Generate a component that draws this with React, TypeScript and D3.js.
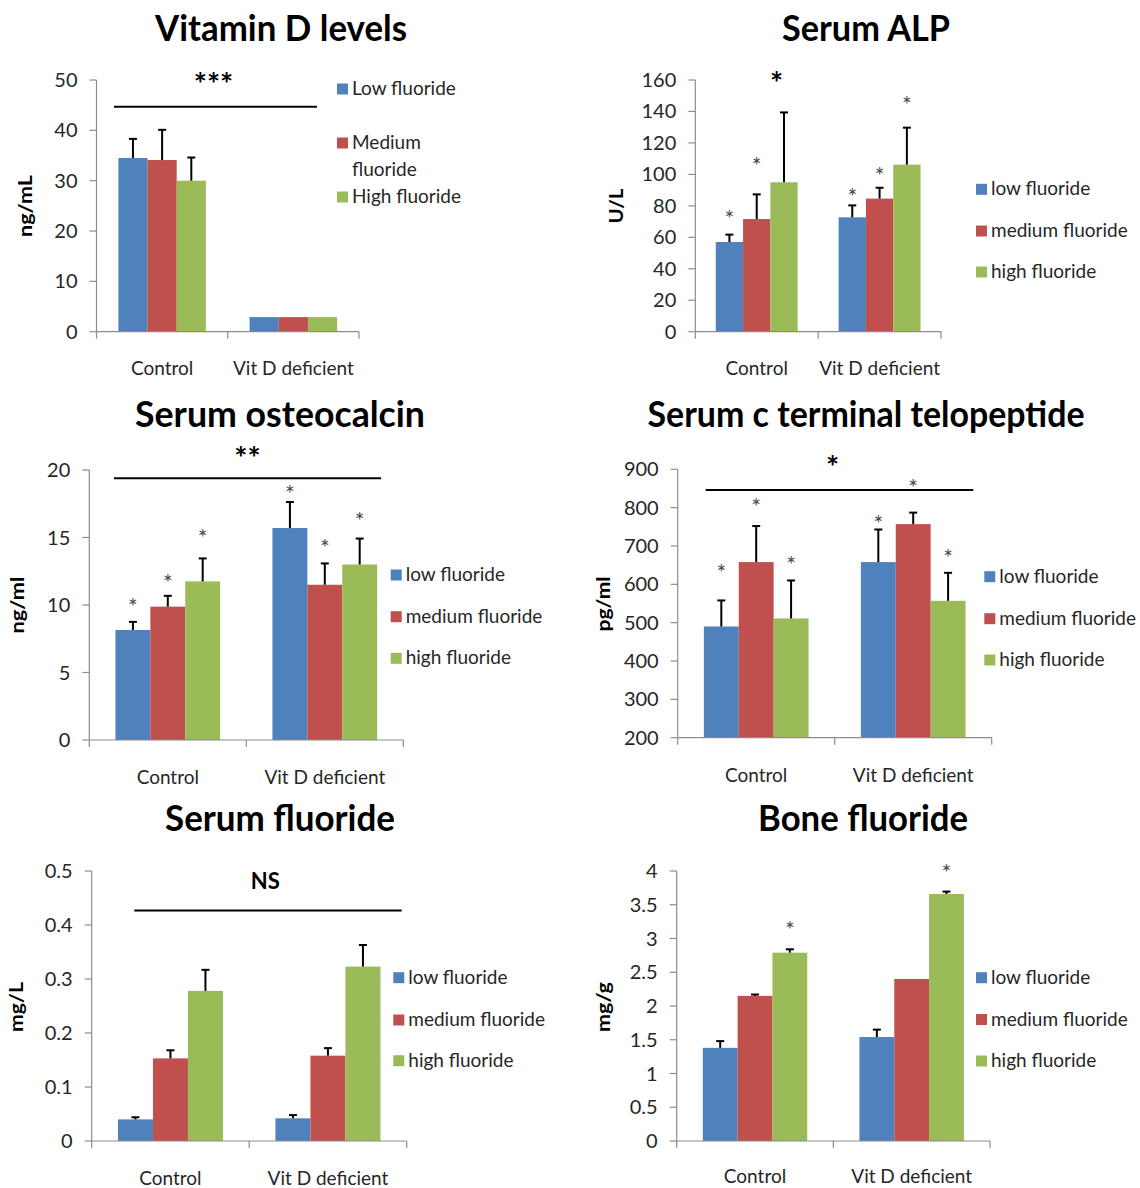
import * as d3 from 'd3';

const FONT = "Lato, 'Open Sans', 'DejaVu Sans', sans-serif";

const categories = ['Control', 'Vit D deficient'];
const seriesKeys = ['low', 'medium', 'high'];
const seriesColors = ['#4f81bd', '#c0504d', '#9bbb59'];
const legendLabels = [['low fluoride'], ['medium fluoride'], ['high fluoride']];
const vitDLegendLabels = [['Low fluoride'], ['Medium', 'fluoride'], ['High fluoride']];

// values are [category][series]
// Vitamin D levels, ng/mL
const vitDMeans = [[34.5, 34.1, 30.0], [2.9, 2.9, 2.9]];
const vitDErrors = [[3.8, 6.0, 4.6], [0, 0, 0]];
const vitDTicks = [0, 10, 20, 30, 40, 50];

// Serum ALP, U/L
const alpMeans = [[57, 71.6, 95], [72.7, 84.6, 106.2]];
const alpErrors = [[4.7, 15.7, 44.4], [7.6, 6.9, 23.5]];
const alpStars = [[74.8, 108.7, null], [88.6, 102.4, 147.3]];
const alpTicks = [0, 20, 40, 60, 80, 100, 120, 140, 160];

// Serum osteocalcin, ng/ml
const oscMeans = [[8.15, 9.88, 11.75], [15.7, 11.5, 13.0]];
const oscErrors = [[0.6, 0.8, 1.7], [1.93, 1.58, 1.92]];
const oscStars = [[10.2, 12.0, 15.3], [18.6, 14.6, 16.6]];
const oscTicks = [0, 5, 10, 15, 20];

// Serum c terminal telopeptide, pg/ml
const ctxMeans = [[490, 658, 511], [658, 757, 557]];
const ctxErrors = [[68, 94, 99], [85, 30, 73]];
const ctxStars = [[642, 816, 664], [770, 864, 681]];
const ctxTicks = [200, 300, 400, 500, 600, 700, 800, 900];

// Serum fluoride, mg/L
const sfMeans = [[0.04, 0.153, 0.278], [0.042, 0.158, 0.323]];
const sfErrors = [[0.004, 0.015, 0.039], [0.006, 0.014, 0.04]];
const sfTicks = [0, 0.1, 0.2, 0.3, 0.4, 0.5];

// Bone fluoride, mg/g
const bfMeans = [[1.38, 2.15, 2.79], [1.54, 2.4, 3.66]];
const bfErrors = [[0.1, 0.02, 0.05], [0.11, 0, 0.035]];
const bfStars = [[null, null, 3.2], [null, null, 4.05]];
const bfTicks = [0, 0.5, 1, 1.5, 2, 2.5, 3, 3.5, 4];

// layout of the six panels
const panels = [
  {
    title: 'Vitamin D levels', titleX: 281, titleY: 41, titleLen: 252,
    yLabel: 'ng/mL', yLabelX: 31.5, yLabelY: 206, yLabelLen: 62,
    left: 96.5, right: 359, top: 80, bottom: 331.7, catY: 375,
    means: vitDMeans, errors: vitDErrors, stars: null, ticks: vitDTicks,
    legend: vitDLegendLabels, legendX: 337, legendY: [89, 143, 197],
    sig: { text: '***', x: 213.5, level: 50.4, line: [114, 317, 44.7] },
  },
  {
    title: 'Serum ALP', titleX: 866, titleY: 41, titleLen: 168,
    yLabel: 'U/L', yLabelX: 623, yLabelY: 206, yLabelLen: 35,
    left: 695.3, right: 941, top: 80, bottom: 331.7, catY: 375,
    means: alpMeans, errors: alpErrors, stars: alpStars, ticks: alpTicks,
    legend: legendLabels, legendX: 976, legendY: [189.3, 231, 272],
    sig: { text: '*', x: 776.7, level: 162, line: null },
  },
  {
    title: 'Serum osteocalcin', titleX: 280, titleY: 427, titleLen: 290,
    yLabel: 'ng/ml', yLabelX: 24, yLabelY: 605, yLabelLen: 57,
    left: 89.3, right: 403.3, top: 470, bottom: 740, catY: 784,
    means: oscMeans, errors: oscErrors, stars: oscStars, ticks: oscTicks,
    legend: legendLabels, legendX: 390.7, legendY: [575, 616.7, 658.3],
    sig: { text: '**', x: 247.5, level: 21.36, line: [114, 381, 19.38] },
  },
  {
    title: 'Serum c terminal telopeptide', titleX: 866, titleY: 427, titleLen: 437,
    yLabel: 'pg/ml', yLabelX: 609.5, yLabelY: 604, yLabelLen: 55,
    left: 677.7, right: 991.7, top: 469.3, bottom: 737.7, catY: 782,
    means: ctxMeans, errors: ctxErrors, stars: ctxStars, ticks: ctxTicks,
    legend: legendLabels, legendX: 984.3, legendY: [576.7, 618.7, 660],
    sig: { text: '*', x: 832.7, level: 922.4, line: [705.7, 973.3, 846] },
  },
  {
    title: 'Serum fluoride', titleX: 280, titleY: 831, titleLen: 230,
    yLabel: 'mg/L', yLabelX: 22.5, yLabelY: 1007, yLabelLen: 50,
    left: 91.7, right: 406.7, top: 871, bottom: 1141, catY: 1185,
    means: sfMeans, errors: sfErrors, stars: null, ticks: sfTicks,
    legend: legendLabels, legendX: 393.3, legendY: [977.7, 1020, 1060.7],
    sig: { text: 'NS', x: 265.3, level: 0.4815, line: [134.3, 401.7, 0.427] },
  },
  {
    title: 'Bone fluoride', titleX: 863, titleY: 831, titleLen: 210,
    yLabel: 'mg/g', yLabelX: 609.5, yLabelY: 1007, yLabelLen: 50,
    left: 676.7, right: 990, top: 871, bottom: 1141, catY: 1183,
    means: bfMeans, errors: bfErrors, stars: bfStars, ticks: bfTicks,
    legend: legendLabels, legendX: 976, legendY: [977.7, 1019.5, 1061],
    sig: null,
  },
];

const AXIS = '#8c8c8c';

function Panel({ p }) {
  const x = d3.scaleBand().domain(categories).range([p.left, p.right]);
  const xs = d3.scaleBand().domain(seriesKeys).range([0, x.bandwidth()]).paddingInner(0).paddingOuter(0.75);
  const y = d3.scaleLinear().domain([p.ticks[0], p.ticks[p.ticks.length - 1]]).range([p.bottom, p.top]);
  const bw = xs.bandwidth();
  const base = p.ticks[0];
  const xTicks = [p.left, ...categories.map((c) => x(c) + x.bandwidth())];
  const isNS = p.sig && p.sig.text === 'NS';

  return (
    <g>
      <text x={p.titleX} y={p.titleY} textAnchor="middle" fontFamily={FONT} fontWeight="bold" fontSize={36}
        textLength={p.titleLen} lengthAdjust="spacingAndGlyphs" fill="#000">{p.title}</text>

      <text transform={`translate(${p.yLabelX},${p.yLabelY}) rotate(-90)`} textAnchor="middle" fontFamily={FONT}
        fontWeight="bold" fontSize={18} textLength={p.yLabelLen} lengthAdjust="spacingAndGlyphs" fill="#000">{p.yLabel}</text>

      {/* bars */}
      {categories.map((c, ci) =>
        seriesKeys.map((s, si) => {
          const v = p.means[ci][si];
          return (
            <rect key={c + s} x={x(c) + xs(s)} y={y(v)} width={bw} height={y(base) - y(v)} fill={seriesColors[si]} />
          );
        })
      )}

      {/* error bars (upper only) */}
      {categories.map((c, ci) =>
        seriesKeys.map((s, si) => {
          const e = p.errors[ci][si];
          if (!e) return null;
          const cx = x(c) + xs(s) + bw / 2;
          const v = p.means[ci][si];
          return (
            <g key={'e' + c + s} stroke="#000" strokeWidth={2}>
              <line x1={cx} x2={cx} y1={y(v)} y2={y(v + e)} />
              <line x1={cx - 4} x2={cx + 4} y1={y(v + e)} y2={y(v + e)} />
            </g>
          );
        })
      )}

      {/* axes */}
      <line x1={p.left} x2={p.left} y1={p.top} y2={p.bottom} stroke={AXIS} strokeWidth={1.2} />
      <line x1={p.left} x2={p.right} y1={p.bottom} y2={p.bottom} stroke={AXIS} strokeWidth={1.2} />
      {p.ticks.map((t) => (
        <g key={'t' + t}>
          <line x1={p.left - 7} x2={p.left} y1={y(t)} y2={y(t)} stroke={AXIS} strokeWidth={1.2} />
          <text x={p.left - 19} y={y(t) + 7} textAnchor="end" fontFamily={FONT} fontSize={20} fill="#262626">{String(t)}</text>
        </g>
      ))}
      {xTicks.map((tx, i) => (
        <line key={'xt' + i} x1={tx} x2={tx} y1={p.bottom} y2={p.bottom + 7} stroke={AXIS} strokeWidth={1.2} />
      ))}
      {categories.map((c) => (
        <text key={'cl' + c} x={x(c) + x.bandwidth() / 2} y={p.catY} textAnchor="middle" fontFamily={FONT} fontSize={19} fill="#262626">{c}</text>
      ))}

      {/* per-bar stars */}
      {p.stars && categories.map((c, ci) =>
        seriesKeys.map((s, si) => {
          const lv = p.stars[ci][si];
          if (lv == null) return null;
          return (
            <text key={'s' + c + s} x={x(c) + xs(s) + bw / 2} y={y(lv) + 13} textAnchor="middle" fontFamily={FONT}
              fontSize={23} fill="#4a4a4a">*</text>
          );
        })
      )}

      {/* significance marker */}
      {p.sig && (
        <g>
          {p.sig.line && (
            <line x1={p.sig.line[0]} x2={p.sig.line[1]} y1={y(p.sig.line[2])} y2={y(p.sig.line[2])} stroke="#000" strokeWidth={2} />
          )}
          <text x={p.sig.x} y={y(p.sig.level) + (isNS ? 8 : 17)} textAnchor="middle" fontFamily={FONT}
            fontWeight="bold" fontSize={isNS ? 22 : 31} fill="#000">{p.sig.text}</text>
        </g>
      )}

      {/* legend */}
      {p.legend.map((lines, i) => (
        <g key={'lg' + i}>
          <rect x={p.legendX} y={p.legendY[i] - 5.5} width={11} height={11} fill={seriesColors[i]} />
          {lines.map((ln, li) => (
            <text key={li} x={p.legendX + 15} y={p.legendY[i] + 6 + li * 27} fontFamily={FONT} fontSize={19} fill="#262626">{ln}</text>
          ))}
        </g>
      ))}
    </g>
  );
}

export default function App() {
  return (
    <svg width={1140} height={1188} viewBox="0 0 1140 1188"
      style={{ position: 'absolute', left: 0, top: 0, display: 'block', background: '#fff' }}>
      <rect width={1140} height={1188} fill="#fff" />
      {panels.map((p) => (
        <Panel key={p.title} p={p} />
      ))}
    </svg>
  );
}
